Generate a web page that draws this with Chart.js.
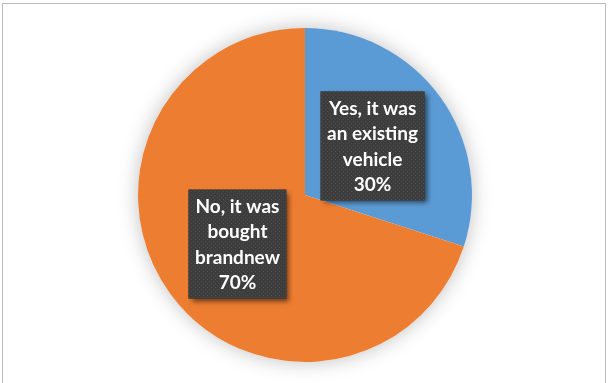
<!DOCTYPE html>
<html>
<head>
<meta charset="utf-8">
<script src="https://cdn.jsdelivr.net/npm/chart.js@4/dist/chart.umd.min.js"></script>
<style>
  html, body { margin: 0; padding: 0; background: #fff; }
  #frame {
    position: absolute; left: 2px; top: 3px; width: 604px; height: 400px;
    border: 1px solid #bcbcbc; box-sizing: border-box;
  }
  #wrap { position: absolute; left: 0; top: 0; width: 608px; height: 383px; }
</style>
</head>
<body>
<div id="frame"></div>
<div id="wrap"><canvas id="pie"></canvas></div>
<script>
// answer categories, wrapped the way they appear in the callouts
const categories = [
  ['Yes, it was', 'an existing', 'vehicle'],
  ['No, it was', 'bought', 'brandnew']
];
const values = [30, 70];
const colors = ['#5b9bd5', '#ed7d31'];

// small dotted texture for the callout boxes
function makeDotPattern(ctx) {
  const c = document.createElement('canvas');
  c.width = 4; c.height = 4;
  const p = c.getContext('2d');
  p.fillStyle = '#3d3d3d';
  p.fillRect(0, 0, 4, 4);
  p.fillStyle = '#4b4b4b';
  p.fillRect(1, 1, 1, 1);
  p.fillRect(3, 3, 1, 1);
  return ctx.createPattern(c, 'repeat');
}

// soft glow under the whole pie
const pieShadow = {
  id: 'pieShadow',
  beforeDatasetsDraw(chart) {
    const arc = chart.getDatasetMeta(0).data[0];
    if (!arc) return;
    const ctx = chart.ctx;
    ctx.save();
    ctx.shadowColor = 'rgba(0,0,0,0.25)';
    ctx.shadowBlur = 20;
    ctx.fillStyle = '#ffffff';
    ctx.beginPath();
    ctx.arc(arc.x, arc.y, arc.outerRadius, 0, Math.PI * 2);
    ctx.fill();
    ctx.restore();
  }
};

// dark callouts with category and percentage
const callouts = {
  id: 'callouts',
  afterDatasetsDraw(chart) {
    const ctx = chart.ctx;
    const meta = chart.getDatasetMeta(0);
    const total = values.reduce((a, b) => a + b, 0);
    const lineH = 25.5;
    const pattern = makeDotPattern(ctx);
    ctx.save();
    ctx.font = 'bold 19px Lato';
    meta.data.forEach((arc, i) => {
      const pos = arc.tooltipPosition();
      const lines = categories[i].concat([Math.round(values[i] / total * 100) + '%']);
      const w = Math.max(...lines.map(l => ctx.measureText(l).width)) + 13;
      const h = lines.length * lineH + 7;
      const x = pos.x - w / 2, y = pos.y - h / 2;

      ctx.save();
      ctx.shadowColor = 'rgba(0,0,0,0.55)';
      ctx.shadowBlur = 5;
      ctx.shadowOffsetX = 3;
      ctx.shadowOffsetY = 3;
      ctx.fillStyle = '#3d3d3d';
      ctx.fillRect(x, y, w, h);
      ctx.restore();
      ctx.fillStyle = pattern;
      ctx.fillRect(x, y, w, h);

      ctx.fillStyle = '#ffffff';
      ctx.textAlign = 'center';
      ctx.textBaseline = 'middle';
      lines.forEach((l, k) => {
        ctx.fillText(l, pos.x, pos.y + (k - (lines.length - 1) / 2) * lineH + 1);
      });
    });
    ctx.restore();
  }
};

new Chart(document.getElementById('pie'), {
  type: 'pie',
  data: {
    labels: categories,
    datasets: [{
      data: values,
      backgroundColor: colors,
      borderWidth: 0,
      hoverOffset: 0
    }]
  },
  options: {
    responsive: true,
    maintainAspectRatio: false,
    animation: false,
    layout: { padding: { top: 28, bottom: 21, left: 2, right: 0 } },
    plugins: {
      legend: { display: false },
      tooltip: { enabled: false }
    }
  },
  plugins: [pieShadow, callouts]
});
</script>
</body>
</html>
